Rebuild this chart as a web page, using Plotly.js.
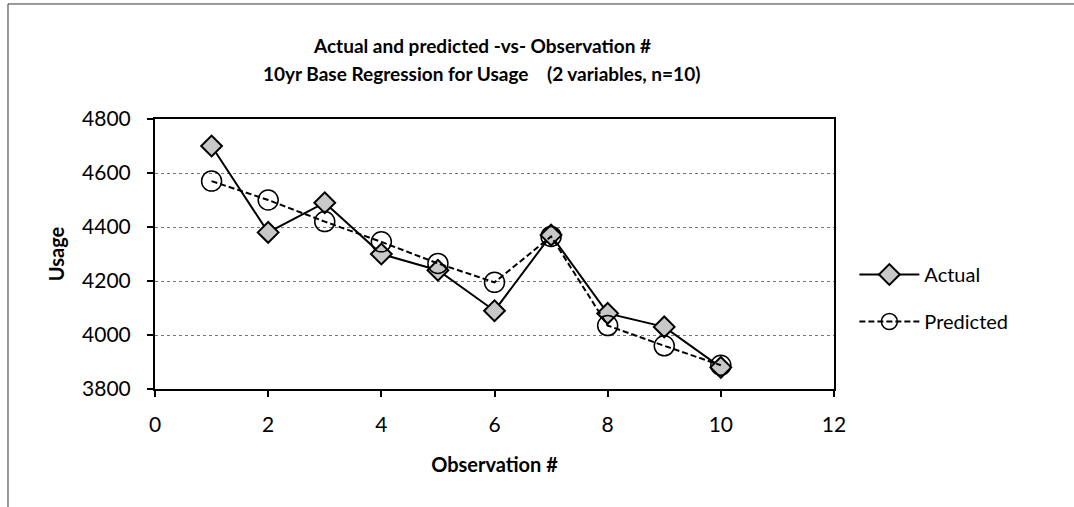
<!DOCTYPE html>
<html>
<head>
<meta charset="utf-8">
<script src="https://cdn.plot.ly/plotly-3.0.1.min.js"></script>
<style>html,body{margin:0;padding:0;background:#fff;}#chart{width:1074px;height:507px;}</style>
</head>
<body>
<div id="chart"></div>
<script>
const observations = [1, 2, 3, 4, 5, 6, 7, 8, 9, 10];
const actualUsage = [4700, 4380, 4490, 4300, 4240, 4090, 4370, 4080, 4030, 3880];
const predictedUsage = [4570, 4500, 4420, 4345, 4265, 4195, 4365, 4035, 3960, 3888];
const xTicks = [0, 2, 4, 6, 8, 10, 12];
const yTicks = [3800, 4000, 4200, 4400, 4600, 4800];
const titleLines = ['Actual and predicted -vs- Observation #', '10yr Base Regression for Usage    (2 variables, n=10)'];

const FONT = 'Lato, "Open Sans", sans-serif';

const traces = [
  {
    x: observations, y: actualUsage, name: 'Actual', type: 'scatter', mode: 'lines+markers',
    legendgroup: 'a',
    line: {color: '#000', width: 2},
    marker: {symbol: 'diamond', size: 16, color: '#c8c8c8', line: {color: '#000', width: 2}}
  },
  {
    x: observations, y: predictedUsage, name: 'Predicted', type: 'scatter', mode: 'lines+markers',
    legendgroup: 'p',
    line: {color: '#000', width: 2, dash: '6px,3px'},
    marker: {symbol: 'circle-open', size: 20, color: '#000', line: {color: '#000', width: 1.5}}
  }
];

const layout = {
  width: 1074, height: 507,
  margin: {l: 155, r: 240, t: 119, b: 118},
  paper_bgcolor: '#fff', plot_bgcolor: '#fff',
  font: {family: FONT, color: '#000', size: 20},
  annotations: [
    {text: '<b>' + titleLines[0] + '</b>', xref: 'paper', yref: 'paper', x: 0.4815, y: 1.274,
     xanchor: 'center', yanchor: 'middle', showarrow: false, font: {family: FONT, size: 19, color: '#000'}},
    {text: '<b>' + titleLines[1] + '</b>', xref: 'paper', yref: 'paper', x: 0.4815, y: 1.170,
     xanchor: 'center', yanchor: 'middle', showarrow: false, font: {family: FONT, size: 19, color: '#000'}}
  ],
  xaxis: {
    range: [0, 12], tickvals: xTicks, ticktext: xTicks.map(String),
    showgrid: false, zeroline: false,
    showline: true, linecolor: '#000', linewidth: 2, mirror: true,
    ticks: 'outside', ticklen: 6, tickwidth: 2, tickcolor: '#000',
    ticklabelstandoff: 10,
    tickfont: {family: FONT, size: 21},
    title: {text: '<b>Observation #</b>', font: {family: FONT, size: 20}, standoff: 23}
  },
  yaxis: {
    range: [3800, 4800], tickvals: yTicks, ticktext: yTicks.map(String),
    showgrid: true, gridcolor: '#777', griddash: 'dot', gridwidth: 1,
    zeroline: false,
    showline: true, linecolor: '#000', linewidth: 2, mirror: true,
    ticks: 'outside', ticklen: 6, tickwidth: 2, tickcolor: '#000',
    ticklabelstandoff: 12,
    tickfont: {family: FONT, size: 21},
    title: {text: '<b>Usage</b>', font: {family: FONT, size: 20}, standoff: 12}
  },
  legend: {
    x: 1.03, y: 0.337, xanchor: 'left', yanchor: 'middle',
    font: {family: FONT, size: 20}, bgcolor: 'rgba(0,0,0,0)',
    tracegroupgap: 18, itemwidth: 60
  },
  shapes: [
    {type: 'line', xref: 'paper', yref: 'paper', x0: -0.2165, x1: -0.2165, y0: -0.44, y1: 1.426, line: {color: '#333', width: 1}},
    {type: 'line', xref: 'paper', yref: 'paper', x0: -0.2165, x1: 1.36, y0: 1.426, y1: 1.426, line: {color: '#333', width: 1}}
  ],
  showlegend: true
};

Plotly.newPlot('chart', traces, layout, {displayModeBar: false, staticPlot: true});
</script>
</body>
</html>
